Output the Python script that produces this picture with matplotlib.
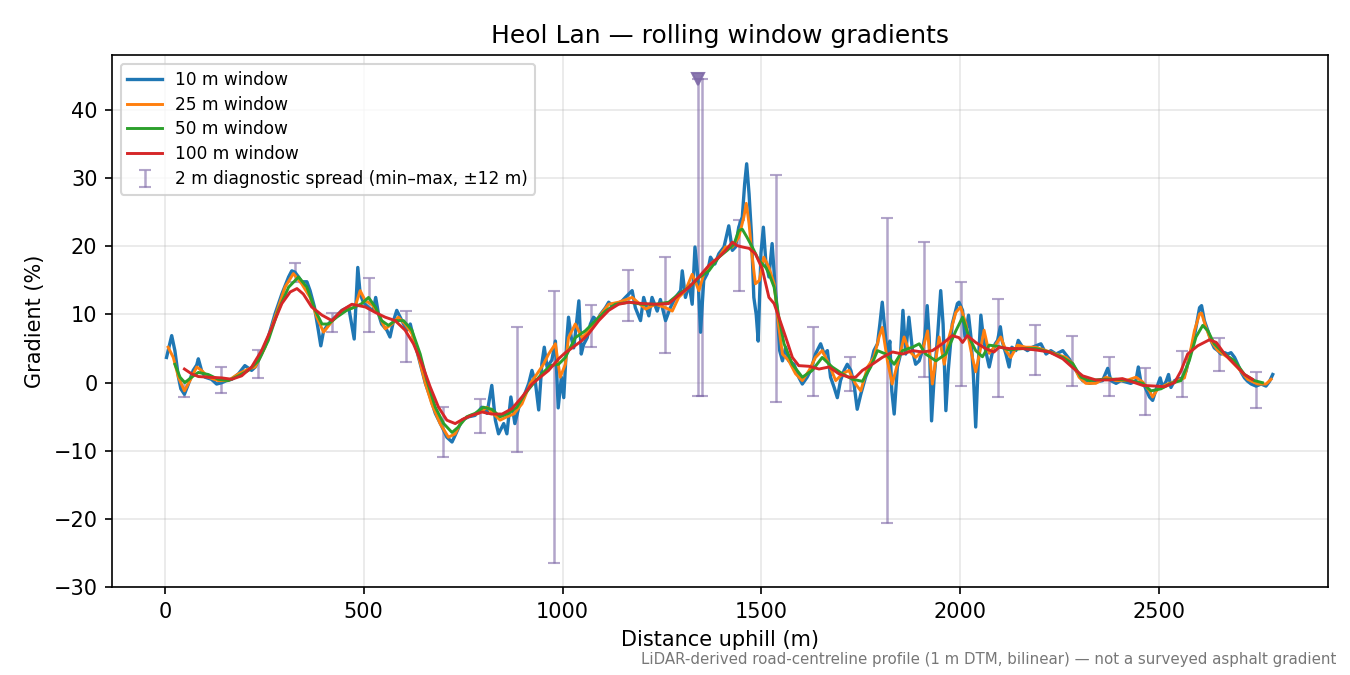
import numpy as np
import matplotlib.pyplot as plt

# rolling-window gradient series, (distance m, gradient %)
w10 = [(4, 3.7), (17, 6.9), (25, 4.7), (34, 0.8), (40, -0.9), (49, -1.7), (59, -0.2), (71, 1.8),
       (80, 2.6), (84, 3.5), (92, 1.8), (101, 0.8), (117, 0.5), (130, -0.2), (143, 0.0), (155, 0.3),
       (168, 0.5), (185, 1.3), (201, 2.5), (218, 1.8), (227, 2.3), (243, 4.2), (260, 6.7), (277, 10.1),
       (294, 13.0), (311, 15.5), (319, 16.4), (327, 16.2), (336, 15.5), (344, 14.8), (357, 14.8),
       (365, 13.5), (376, 11.1), (386, 7.6), (392, 5.4), (399, 7.6), (411, 8.6), (428, 9.6), (445, 10.6),
       (462, 11.1), (476, 6.4), (485, 16.9), (491, 13.0), (499, 11.8), (512, 11.0), (524, 10.6),
       (530, 12.5), (537, 10.1), (545, 8.6), (558, 7.7), (566, 6.7), (575, 9.1), (583, 10.6), (596, 9.1),
       (608, 7.7), (617, 8.6), (629, 5.7), (642, 2.8), (655, -0.1), (667, -2.1), (680, -4.5), (697, -6.5),
       (709, -8.0), (722, -8.7), (730, -7.7), (747, -5.5), (764, -5.0), (780, -4.8), (797, -3.6),
       (810, -4.5), (822, -0.4), (831, -5.5), (839, -7.5), (852, -6.0), (860, -7.5), (870, -2.1),
       (880, -6.0), (890, -3.6), (902, -2.1), (915, -0.1), (923, 1.8), (932, -0.1), (940, -4.0),
       (948, 2.8), (954, 5.2), (961, 2.3), (973, 3.3), (982, 6.1), (989, -3.7), (997, 0.8), (1003, -2.2),
       (1011, 6.6), (1015, 9.6), (1022, 6.6), (1028, 5.1), (1034, 8.1), (1041, 12.0), (1047, 4.2),
       (1053, 5.6), (1062, 6.6), (1070, 8.6), (1078, 9.6), (1087, 9.1), (1095, 10.0), (1108, 11.0),
       (1116, 11.8), (1125, 11.3), (1137, 11.5), (1150, 12.0), (1158, 12.5), (1175, 13.5), (1183, 11.0),
       (1196, 9.1), (1204, 12.5), (1217, 9.8), (1225, 12.5), (1238, 10.5), (1246, 12.2), (1259, 9.1),
       (1271, 11.0), (1284, 12.5), (1297, 13.5), (1301, 16.4), (1309, 12.5), (1318, 14.5), (1326, 11.5),
       (1333, 19.9), (1341, 15.0), (1347, 7.4), (1355, 15.0), (1364, 16.0), (1372, 18.4), (1383, 17.4),
       (1393, 18.9), (1406, 19.9), (1418, 23.0), (1427, 19.4), (1435, 19.9), (1443, 22.8), (1452, 24.3),
       (1458, 29.2), (1463, 32.1), (1469, 27.7), (1475, 21.8), (1481, 12.5), (1487, 10.0), (1492, 6.1),
       (1499, 19.0), (1505, 22.8), (1511, 17.9), (1519, 15.5), (1527, 20.4), (1534, 14.5), (1540, 10.5),
       (1546, 4.7), (1553, 3.2), (1561, 5.2), (1569, 3.2), (1582, 2.7), (1594, 0.8), (1603, -0.2),
       (1615, 0.8), (1624, 1.8), (1636, 4.2), (1649, 5.7), (1658, 4.2), (1666, 4.7), (1674, 0.8),
       (1683, -0.7), (1691, -2.2), (1699, 0.3), (1708, 1.8), (1716, 2.7), (1725, 1.8), (1733, -0.2),
       (1741, -3.9), (1750, -1.7), (1762, 0.8), (1775, 2.7), (1783, 4.7), (1792, 5.7), (1798, 8.6),
       (1804, 11.8), (1810, 8.1), (1817, 3.7), (1823, 6.1), (1828, -1.2), (1834, -4.6), (1842, 2.3),
       (1850, 4.2), (1856, 10.6), (1863, 4.2), (1871, 9.6), (1880, 4.7), (1888, 2.7), (1897, 3.2),
       (1905, 4.7), (1911, 6.7), (1917, 11.3), (1922, 6.7), (1928, -5.6), (1934, 0.3), (1943, 6.7),
       (1951, 13.5), (1957, 8.6), (1964, -4.1), (1970, 1.8), (1980, 8.6), (1993, 11.6), (1997, 11.8),
       (2006, 10.6), (2012, 6.7), (2021, 9.9), (2027, 6.7), (2033, 1.3), (2039, -6.5), (2045, 2.3),
       (2052, 9.9), (2058, 6.7), (2064, 4.7), (2073, 2.3), (2080, 4.2), (2088, 5.7), (2094, 6.2),
       (2101, 8.2), (2106, 6.0), (2115, 4.2), (2123, 2.3), (2130, 5.2), (2140, 4.7), (2146, 6.2),
       (2157, 5.2), (2169, 4.7), (2182, 5.2), (2203, 5.7), (2216, 4.2), (2228, 4.7), (2241, 4.2),
       (2258, 4.7), (2274, 3.5), (2291, 1.8), (2308, 0.3), (2325, -0.1), (2341, 0.1), (2358, 0.3),
       (2371, 2.1), (2379, 0.3), (2392, -0.1), (2404, 0.3), (2417, 0.1), (2429, -0.1), (2442, 0.3),
       (2448, 2.3), (2455, -0.1), (2463, -0.4), (2476, -2.1), (2484, -2.6), (2492, -1.1), (2503, 0.7),
       (2509, -0.7), (2518, 0.2), (2524, 1.2), (2530, -0.7), (2539, 0.3), (2547, 0.5), (2560, 0.7),
       (2568, 1.7), (2576, 3.7), (2585, 5.7), (2593, 8.1), (2602, 11.0), (2607, 11.3), (2614, 9.1),
       (2623, 7.6), (2631, 6.1), (2639, 5.1), (2648, 4.7), (2656, 4.2), (2665, 4.4), (2673, 4.2),
       (2681, 4.4), (2690, 3.7), (2698, 2.7), (2707, 1.5), (2715, 0.7), (2723, 0.2), (2732, -0.2),
       (2744, -0.5), (2757, -0.2), (2769, -0.5), (2778, 0.2), (2786, 1.2)]

w25 = [(8, 5.2), (21, 3.7), (34, 0.8), (49, -1.2), (63, 0.3), (80, 2.3), (92, 1.8), (109, 0.8),
       (134, 0.3), (159, 0.3), (185, 1.3), (210, 2.0), (227, 2.3), (252, 5.2), (277, 9.6), (302, 14.0),
       (323, 16.0), (344, 14.5), (365, 12.5), (382, 9.6), (399, 7.4), (415, 8.6), (436, 10.1), (462, 10.8),
       (478, 11.1), (491, 13.5), (504, 12.0), (520, 11.5), (537, 10.1), (554, 7.9), (571, 8.6), (587, 9.6),
       (604, 8.6), (621, 7.2), (638, 3.8), (655, -0.1), (671, -3.1), (692, -6.0), (713, -8.0), (730, -7.5),
       (747, -5.5), (768, -4.8), (789, -4.5), (810, -3.6), (827, -4.6), (843, -5.5), (860, -5.0),
       (877, -4.6), (898, -3.1), (919, -0.1), (936, 1.3), (952, 2.7), (965, 4.2), (982, 5.7), (994, 0.8),
       (1007, 2.7), (1015, 6.6), (1032, 8.6), (1049, 6.6), (1066, 7.6), (1091, 9.6), (1116, 11.5),
       (1141, 11.8), (1175, 12.5), (1209, 10.8), (1234, 11.5), (1259, 11.0), (1276, 10.5), (1292, 12.5),
       (1309, 13.5), (1326, 15.9), (1343, 13.5), (1355, 15.9), (1372, 17.4), (1393, 18.4), (1410, 19.9),
       (1427, 19.9), (1443, 21.3), (1456, 24.3), (1462, 26.3), (1469, 23.3), (1477, 18.4), (1485, 14.5),
       (1495, 15.0), (1506, 18.4), (1519, 16.9), (1532, 14.5), (1544, 8.1), (1553, 4.2), (1569, 3.2),
       (1586, 1.3), (1603, 0.3), (1620, 1.8), (1636, 3.7), (1653, 4.7), (1670, 2.7), (1687, 0.3),
       (1704, 1.3), (1720, 1.8), (1737, -0.2), (1750, -1.2), (1767, 2.3), (1783, 3.7), (1796, 6.7),
       (1804, 8.1), (1817, 3.2), (1829, -0.2), (1842, 2.7), (1859, 6.7), (1871, 4.7), (1888, 3.7),
       (1905, 4.7), (1918, 7.6), (1930, -0.2), (1947, 6.7), (1960, 2.7), (1972, 6.7), (1989, 10.3),
       (2001, 11.1), (2014, 8.7), (2027, 4.7), (2039, 1.6), (2052, 5.2), (2060, 7.7), (2073, 4.3),
       (2085, 5.2), (2102, 6.7), (2115, 4.7), (2127, 3.7), (2144, 5.5), (2165, 5.2), (2190, 5.2),
       (2216, 4.7), (2241, 4.2), (2266, 3.7), (2283, 2.8), (2299, 0.8), (2316, -0.1), (2341, -0.1),
       (2367, 0.8), (2392, 0.3), (2417, 0.3), (2442, 0.8), (2459, 0.1), (2476, -1.2), (2484, -2.1),
       (2497, -0.9), (2522, -0.2), (2547, 0.3), (2564, 0.7), (2576, 3.7), (2589, 7.6), (2602, 10.1),
       (2607, 10.2), (2618, 8.1), (2631, 6.1), (2648, 4.7), (2673, 3.7), (2698, 2.2), (2723, 0.5),
       (2748, -0.2), (2769, -0.2), (2782, 0.5)]

w50 = [(25, 2.7), (38, 0.8), (50, 0.0), (67, 0.8), (84, 1.5), (109, 1.2), (134, 0.5), (159, 0.3),
       (185, 1.0), (210, 1.8), (235, 3.2), (260, 6.2), (285, 10.6), (311, 14.0), (336, 15.5), (357, 14.0),
       (378, 10.6), (395, 8.6), (411, 8.6), (432, 9.6), (457, 10.6), (478, 11.1), (495, 11.6), (512, 12.5),
       (529, 11.1), (545, 9.1), (562, 8.4), (579, 9.1), (600, 9.1), (621, 7.7), (642, 4.2), (659, 0.3),
       (680, -3.6), (701, -6.0), (722, -7.3), (738, -6.5), (759, -5.0), (780, -4.5), (801, -3.6),
       (822, -3.9), (843, -5.0), (864, -4.5), (885, -3.6), (906, -1.6), (927, -0.1), (948, 1.3),
       (969, 2.5), (990, 2.7), (1007, 3.7), (1032, 6.6), (1057, 7.6), (1083, 9.1), (1108, 10.5),
       (1133, 11.5), (1167, 11.8), (1200, 11.5), (1234, 11.5), (1267, 11.8), (1292, 13.0), (1318, 14.0),
       (1343, 15.4), (1368, 16.4), (1393, 18.4), (1414, 19.4), (1431, 20.3), (1443, 22.3), (1452, 22.5),
       (1464, 21.3), (1477, 19.9), (1494, 17.9), (1511, 16.9), (1519, 16.0), (1532, 14.0), (1544, 9.6),
       (1557, 5.7), (1578, 2.7), (1603, 0.8), (1628, 1.8), (1653, 3.7), (1678, 2.3), (1704, 1.3),
       (1729, 0.5), (1754, 0.2), (1775, 2.3), (1792, 4.7), (1813, 4.2), (1834, 2.7), (1855, 4.7),
       (1880, 5.2), (1897, 5.7), (1913, 4.2), (1939, 3.2), (1964, 4.2), (1989, 7.6), (2006, 9.6),
       (2022, 6.7), (2039, 4.7), (2056, 3.8), (2073, 5.5), (2098, 5.3), (2123, 4.8), (2157, 5.0),
       (2190, 5.0), (2224, 4.5), (2258, 3.7), (2283, 2.8), (2304, 0.8), (2325, 0.3), (2358, 0.5),
       (2392, 0.5), (2425, 0.3), (2459, -0.1), (2480, -1.2), (2505, -0.9), (2530, -0.1), (2555, 0.3),
       (2576, 3.2), (2593, 6.7), (2610, 8.4), (2623, 7.6), (2639, 5.7), (2665, 4.2), (2690, 3.2),
       (2715, 1.2), (2740, 0.3), (2760, 0.0)]

w100 = [(49, 2.0), (67, 1.3), (84, 0.9), (109, 0.8), (143, 0.7), (168, 0.5), (193, 1.0), (218, 2.3),
        (243, 4.7), (269, 8.1), (294, 11.6), (315, 13.3), (332, 13.8), (348, 13.0), (369, 11.1),
        (395, 9.9), (420, 9.1), (445, 10.6), (470, 11.5), (504, 11.1), (529, 10.3), (554, 9.6),
        (579, 9.1), (604, 7.7), (625, 5.7), (646, 2.8), (667, -0.6), (688, -3.6), (709, -5.5),
        (730, -6.0), (751, -5.3), (772, -4.8), (797, -4.3), (822, -4.6), (848, -4.6), (873, -3.8),
        (898, -2.1), (923, -0.2), (944, 0.8), (965, 1.8), (990, 3.5), (1007, 4.4), (1024, 5.1),
        (1049, 6.2), (1066, 7.2), (1091, 9.1), (1116, 10.6), (1141, 11.5), (1167, 11.8), (1200, 11.6),
        (1234, 11.5), (1267, 11.6), (1292, 12.8), (1318, 14.0), (1343, 15.5), (1368, 17.2), (1393, 18.4),
        (1410, 19.4), (1427, 20.6), (1439, 20.1), (1452, 19.9), (1469, 19.7), (1485, 18.9), (1502, 16.7),
        (1519, 12.5), (1532, 11.6), (1544, 9.6), (1561, 6.7), (1578, 3.7), (1594, 2.5), (1620, 2.4),
        (1645, 2.0), (1670, 2.3), (1695, 1.3), (1720, 0.8), (1737, 0.8), (1754, 1.8), (1779, 2.7),
        (1804, 3.7), (1830, 4.5), (1855, 4.2), (1880, 4.7), (1905, 4.5), (1930, 4.7), (1955, 5.7),
        (1980, 6.9), (1997, 6.6), (2006, 5.9), (2018, 6.9), (2039, 5.9), (2064, 5.0), (2085, 4.5),
        (2098, 5.2), (2123, 5.0), (2157, 5.0), (2190, 4.8), (2224, 4.5), (2258, 3.5), (2283, 2.2),
        (2308, 1.0), (2341, 0.4), (2375, 0.4), (2408, 0.6), (2434, 0.1), (2459, -0.4), (2492, -0.5),
        (2514, -0.6), (2539, 0.0), (2555, 1.7), (2572, 4.2), (2597, 5.4), (2627, 6.3), (2644, 5.9),
        (2665, 4.2), (2690, 2.7), (2715, 1.2), (2735, 0.5)]

# 2 m diagnostic spread (min / max within +-12 m)
spread_x = [48, 141, 234, 327, 420, 513, 606, 699, 792, 885, 978, 1071, 1164, 1257, 1341, 1350,
            1443, 1536, 1629, 1722, 1815, 1908, 2001, 2094, 2187, 2280, 2373, 2466, 2559, 2652, 2745]
spread_lo = [-2.1, -1.5, 0.7, 14.7, 7.4, 7.4, 3.1, -10.9, -7.4, -10.1, -26.4, 5.2, 9.1, 4.4, -2.0, -2.0,
             13.5, -2.9, -2.0, -1.2, -20.6, 0.8, -0.5, -2.1, 1.1, -0.5, -2.0, -4.8, -2.1, 1.7, -3.7]
spread_hi = [0.3, 2.3, 4.8, 17.6, 10.2, 15.4, 10.5, -3.6, -2.4, 8.2, 13.5, 11.4, 16.5, 18.4, 44.6, 44.5,
             23.8, 30.5, 8.2, 3.7, 24.1, 20.6, 14.7, 12.2, 8.4, 6.8, 3.7, 2.1, 4.6, 6.5, 1.6]
peak_x, peak_y = 1341, 44.6

series = [(w10, '10 m window', 'tab:blue', 1.6),
          (w25, '25 m window', 'tab:orange', 1.4),
          (w50, '50 m window', 'tab:green', 1.4),
          (w100, '100 m window', 'tab:red', 1.4)]
spread_color = '#7f6aa8'

fig, ax = plt.subplots(figsize=(9, 4.5), dpi=150)
fig.subplots_adjust(left=0.083, right=0.984, top=0.918, bottom=0.130)

lo = np.array(spread_lo)
hi = np.array(spread_hi)
mid = (lo + hi) / 2
ax.errorbar(spread_x, mid, yerr=[mid - lo, hi - mid], fmt='none', ecolor=spread_color,
            alpha=0.6, capsize=3, elinewidth=1.2, capthick=1.0,
            label='2 m diagnostic spread (min–max, ±12 m)', zorder=2)
ax.plot(peak_x, peak_y, marker='v', color=spread_color, ms=6, alpha=0.9, zorder=3)

for pts, name, col, lw in series:
    xs, ys = zip(*pts)
    ax.plot(xs, ys, color=col, lw=lw, label=name, zorder=4)

ax.set_xlim(-133, 2926)
ax.set_ylim(-30, 48)
ax.grid(True, alpha=0.3)
ax.set_xlabel('Distance uphill (m)')
ax.set_ylabel('Gradient (%)')
ax.set_title('Heol Lan — rolling window gradients')
ax.legend(loc='upper left', fontsize=8.2, labelspacing=0.4)

fig.text(0.99, 0.012, 'LiDAR-derived road-centreline profile (1 m DTM, bilinear) — not a surveyed asphalt gradient',
         ha='right', va='bottom', fontsize=7.2, color='#777777')

fig.savefig('out.png', dpi=150)
